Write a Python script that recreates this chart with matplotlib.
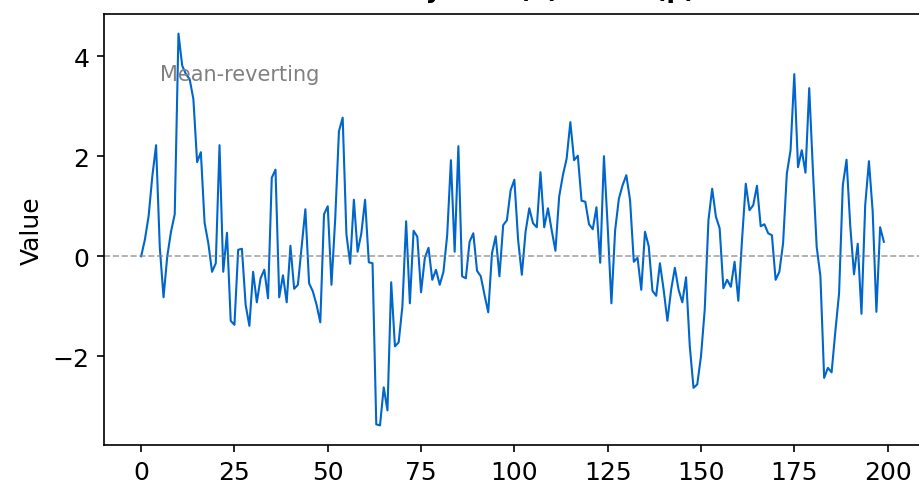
import numpy as np
import matplotlib
matplotlib.use('Agg')
import matplotlib.pyplot as plt

### values, one per time step
steps = np.arange(200)
values = [
    0.00, 0.33, 0.80, 1.60, 2.22, 0.18, -0.82, 0.00, 0.49, 0.84,
    4.45, 3.81, 3.64, 3.54, 3.14, 1.88, 2.08, 0.67, 0.26, -0.31,
    -0.14, 2.22, -0.31, 0.47, -1.29, -1.37, 0.13, 0.15, -0.97, -1.39,
    -0.31, -0.92, -0.44, -0.27, -0.84, 1.57, 1.73, -0.82, -0.38, -0.92,
    0.21, -0.65, -0.57, 0.19, 0.94, -0.54, -0.70, -0.97, -1.32, 0.84,
    1.00, -0.57, 0.75, 2.50, 2.77, 0.44, -0.15, 1.13, 0.09, 0.46,
    1.13, -0.12, -0.14, -3.36, -3.38, -2.62, -3.08, -0.52, -1.80, -1.72,
    -1.00, 0.70, -0.94, 0.51, 0.39, -0.72, -0.04, 0.17, -0.47, -0.27,
    -0.57, -0.31, 0.42, 1.92, 0.09, 2.20, -0.40, -0.44, 0.29, 0.46,
    -0.29, -0.40, -0.77, -1.12, 0.06, 0.40, -0.40, 0.62, 0.72, 1.32,
    1.53, 0.33, -0.37, 0.49, 0.96, 0.66, 0.58, 1.68, 0.58, 0.96,
    0.52, 0.11, 1.19, 1.62, 1.95, 2.68, 1.92, 2.01, 1.11, 1.09,
    0.64, 0.54, 0.98, -0.13, 2.00, 0.60, -0.94, 0.52, 1.15, 1.42,
    1.62, 1.12, -0.11, -0.03, -0.67, 0.49, 0.20, -0.69, -0.79, -0.14,
    -0.67, -1.29, -0.67, -0.23, -0.67, -0.92, -0.42, -1.80, -2.63, -2.56,
    -2.00, -1.07, 0.72, 1.35, 0.79, 0.56, -0.64, -0.47, -0.61, -0.11,
    -0.89, 0.33, 1.45, 0.92, 1.02, 1.41, 0.60, 0.64, 0.46, 0.42,
    -0.47, -0.31, 0.26, 1.65, 2.12, 3.64, 1.78, 2.12, 1.67, 3.36,
    1.70, 0.19, -0.40, -2.43, -2.23, -2.32, -1.50, -0.74, 1.42, 1.93,
    0.60, -0.36, 0.25, -1.15, 1.02, 1.90, 0.90, -1.11, 0.58, 0.29,
]

xTicks = [0, 25, 50, 75, 100, 125, 150, 175, 200]
yTicks = [-2, 0, 2, 4]
titleText = 'Series y = AR(1) Noise (p)'
noteText = 'Mean-reverting'

### figure is a crop: title sits above the top edge, right spine past the edge
fig = plt.figure(figsize=(919 / 150, 489 / 150), dpi=150)
ax = fig.add_axes([104 / 919, 43 / 489, 817 / 919, 431 / 489])

ax.plot(steps, values, color='#0066cc', linewidth=1)
ax.axhline(0, color='gray', linestyle='--', linewidth=0.8, alpha=0.7)
ax.text(5, 3.53, noteText, color='gray', fontsize=10)

ax.set_title(titleText, fontsize=12, fontweight='bold', pad=8)
ax.set_ylabel('Value', fontsize=12)
ax.set_xticks(xTicks)
ax.set_yticks(yTicks)
ax.set_yticklabels(['\u22122', '0', '2', '4'])
ax.tick_params(labelsize=12)

fig.savefig('out.png', dpi=150)
